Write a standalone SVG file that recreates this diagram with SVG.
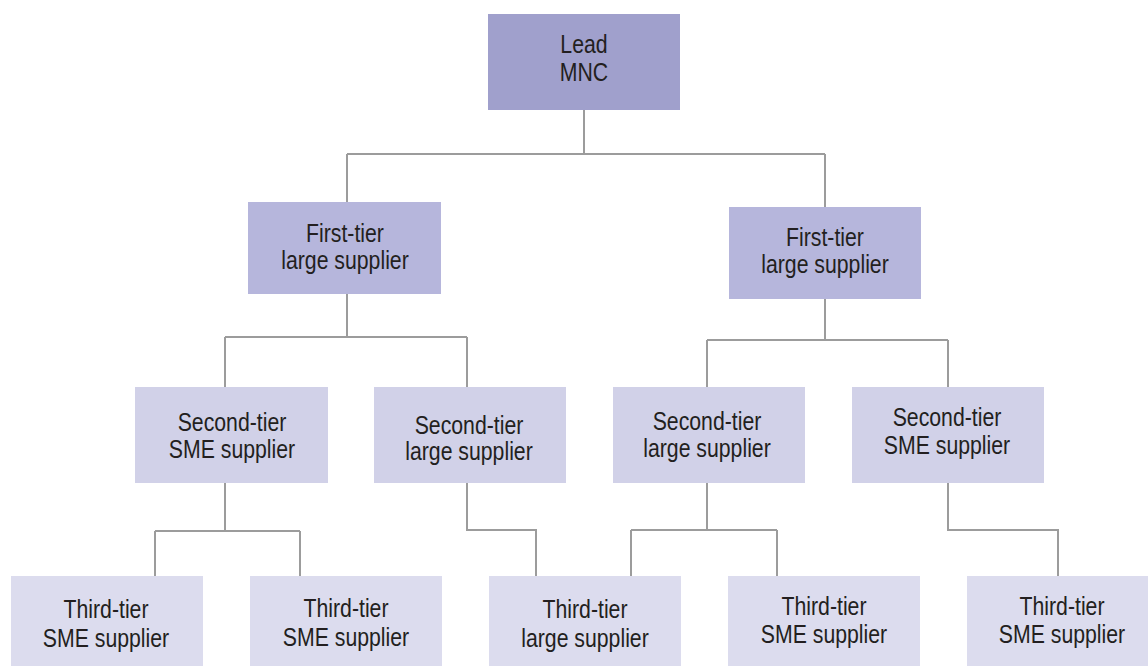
<svg xmlns="http://www.w3.org/2000/svg" width="1148" height="666" viewBox="0 0 1148 666">
<style>
.t0{fill:#a0a0cc}.t1{fill:#b6b6dc}.t2{fill:#d1d1e8}.t3{fill:#dcdcee}
text{font-family:"Liberation Sans",Arial,sans-serif;font-size:25px;fill:#231f20;text-anchor:middle}
.c{fill:none;stroke:#9c9c9c;stroke-width:2}
</style>
<rect width="1148" height="666" fill="#ffffff"/>
<g id="connectors">
<path class="c" d="M584,110V154M347,154H825M347,154V202M825,154V207"/>
<path class="c" d="M347,294V337M225,337H467M225,337V387M467,337V387"/>
<path class="c" d="M825,299V340M707,340H948M707,340V387M948,340V387"/>
<path class="c" d="M225,483V531M155,531H300M155,531V576M300,531V576"/>
<path class="c" d="M467,483V530H536V576"/>
<path class="c" d="M707,483V530M631,530H777M631,530V576M777,530V576"/>
<path class="c" d="M948,483V530H1058V576"/>
</g>
<g id="lead"><rect class="t0" x="488" y="14" width="192" height="96"/><g transform="translate(584,0) scale(0.85,1)"><text x="0" y="53">Lead</text><text x="0" y="81">MNC</text></g></g>
<g id="first-left"><rect class="t1" x="248" y="202" width="193" height="92"/><g transform="translate(345,0) scale(0.85,1)"><text x="0" y="242">First-tier</text><text x="0" y="269">large supplier</text></g></g>
<g id="first-right"><rect class="t1" x="729" y="207" width="192" height="92"/><g transform="translate(825,0) scale(0.85,1)"><text x="0" y="246">First-tier</text><text x="0" y="273">large supplier</text></g></g>
<g id="second-1"><rect class="t2" x="135" y="387" width="193" height="96"/><g transform="translate(232,0) scale(0.85,1)"><text x="0" y="431">Second-tier</text><text x="0" y="458">SME supplier</text></g></g>
<g id="second-2"><rect class="t2" x="374" y="387" width="192" height="96"/><g transform="translate(469,0) scale(0.85,1)"><text x="0" y="434">Second-tier</text><text x="0" y="460">large supplier</text></g></g>
<g id="second-3"><rect class="t2" x="613" y="387" width="192" height="96"/><g transform="translate(707,0) scale(0.85,1)"><text x="0" y="430">Second-tier</text><text x="0" y="457">large supplier</text></g></g>
<g id="second-4"><rect class="t2" x="852" y="387" width="192" height="96"/><g transform="translate(947,0) scale(0.85,1)"><text x="0" y="426">Second-tier</text><text x="0" y="454">SME supplier</text></g></g>
<g id="third-1"><rect class="t3" x="11" y="576" width="192" height="90"/><g transform="translate(106,0) scale(0.85,1)"><text x="0" y="618">Third-tier</text><text x="0" y="647">SME supplier</text></g></g>
<g id="third-2"><rect class="t3" x="250" y="576" width="192" height="90"/><g transform="translate(346,0) scale(0.85,1)"><text x="0" y="617">Third-tier</text><text x="0" y="646">SME supplier</text></g></g>
<g id="third-3"><rect class="t3" x="489" y="576" width="192" height="90"/><g transform="translate(585,0) scale(0.85,1)"><text x="0" y="618">Third-tier</text><text x="0" y="647">large supplier</text></g></g>
<g id="third-4"><rect class="t3" x="728" y="576" width="192" height="90"/><g transform="translate(824,0) scale(0.85,1)"><text x="0" y="615">Third-tier</text><text x="0" y="643">SME supplier</text></g></g>
<g id="third-5"><rect class="t3" x="967" y="576" width="192" height="90"/><g transform="translate(1062,0) scale(0.85,1)"><text x="0" y="615">Third-tier</text><text x="0" y="643">SME supplier</text></g></g>
</svg>
